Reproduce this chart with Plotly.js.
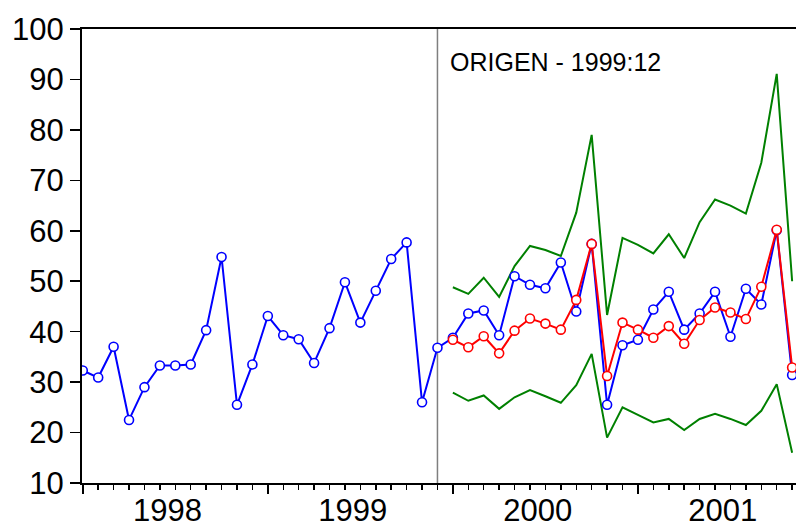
<!DOCTYPE html>
<html>
<head>
<meta charset="utf-8">
<script src="https://cdn.plot.ly/plotly-3.0.1.min.js"></script>
<style>html,body{margin:0;padding:0;background:#fff;overflow:hidden}#chart{width:796px;height:529px}</style>
</head>
<body>
<div id="chart"></div>
<script>
// Monthly observations, index 0 = 1998:01
const monthIndex = Array.from({length: 47}, (_, i) => i);
const forecastIndex = monthIndex.slice(24); // 2000:01 .. 2001:11
const yearLabels = ['1998', '1999', '2000', '2001'];
const yearLabelPos = [5.5, 17.5, 29.5, 41.5];
const yearStarts = [0, 12, 24, 36];
const originIndex = 23; // 1999:12
const originLabel = 'ORIGEN - 1999:12';

const actual = [32.3, 30.9, 37.0, 22.5, 29.0, 33.3, 33.3, 33.5, 40.3, 54.8, 25.5, 33.5,
  43.1, 39.3, 38.5, 33.8, 40.7, 49.8, 41.8, 48.1, 54.4, 57.7, 26.0, 36.8,
  38.8, 43.6, 44.2, 39.3, 51.0, 49.3, 48.6, 53.7, 44.0, 57.4, 25.5, 37.3,
  38.4, 44.4, 47.9, 40.4, 43.6, 47.9, 39.0, 48.5, 45.4, 60.1, 31.4];
const forecast = [38.4, 36.9, 39.1, 35.7, 40.2, 42.6, 41.6, 40.4, 46.3, 57.4, 31.2, 41.8,
  40.4, 38.8, 41.1, 37.6, 42.3, 44.8, 43.8, 42.5, 48.9, 60.2, 32.9];
const upperBand = [48.8, 47.5, 50.7, 46.9, 53.0, 57.0, 56.2, 55.0, 63.6, 79.0, 43.3, 58.6,
  57.2, 55.5, 59.3, 54.6, 61.7, 66.2, 65.0, 63.4, 73.5, 91.1, 50.0];
const lowerBand = [27.9, 26.3, 27.35, 24.7, 27.0, 28.4, 27.2, 25.9, 29.4, 35.6, 19.0, 25.0,
  23.5, 22.0, 22.7, 20.5, 22.7, 23.7, 22.7, 21.5, 24.3, 29.6, 16.0];

const FONT = '"Liberation Sans", Arial, Helvetica, sans-serif';
const BLUE = '#0000ff', RED = '#ff0000', GREEN = '#008000';
const marker = c => ({symbol: 'circle', size: 9, color: '#ffffff', line: {color: c, width: 1.6}});

const traces = [
  {x: forecastIndex, y: upperBand, type: 'scatter', mode: 'lines', line: {color: GREEN, width: 2}, hoverinfo: 'skip'},
  {x: forecastIndex, y: lowerBand, type: 'scatter', mode: 'lines', line: {color: GREEN, width: 2}, hoverinfo: 'skip'},
  {x: monthIndex, y: actual, type: 'scatter', mode: 'lines+markers', line: {color: BLUE, width: 2}, marker: marker(BLUE)},
  {x: forecastIndex, y: forecast, type: 'scatter', mode: 'lines+markers', line: {color: RED, width: 2}, marker: marker(RED)},
  {x: [null], y: [null], xaxis: 'x2', type: 'scatter', mode: 'lines', showlegend: false, hoverinfo: 'skip'},
  {x: [null], y: [null], xaxis: 'x3', type: 'scatter', mode: 'lines', showlegend: false, hoverinfo: 'skip'}
];

const xr = [-0.05, 46.25];
const layout = {
  width: 796, height: 529,
  margin: {l: 82, r: 0, t: 29, b: 46},
  paper_bgcolor: '#ffffff', plot_bgcolor: '#ffffff',
  showlegend: false,
  font: {family: FONT, color: '#000'},
  xaxis: {
    range: xr, showgrid: false, zeroline: false,
    showline: true, linecolor: '#000', linewidth: 2, mirror: true,
    tickmode: 'linear', tick0: 0, dtick: 1, ticks: 'outside', ticklen: 5, tickwidth: 1.5, tickcolor: '#000',
    showticklabels: false
  },
  xaxis2: {
    range: xr, overlaying: 'x', anchor: 'y', side: 'bottom', showgrid: false, zeroline: false, showline: false,
    tickmode: 'array', tickvals: yearStarts, ticks: 'outside', ticklen: 10, tickwidth: 1.5, tickcolor: '#000',
    showticklabels: false
  },
  xaxis3: {
    range: xr, overlaying: 'x', anchor: 'y', side: 'bottom', showgrid: false, zeroline: false, showline: false,
    tickmode: 'array', tickvals: yearLabelPos, ticktext: yearLabels, ticks: '',
    tickfont: {family: FONT, size: 31, color: '#000'}, ticklabelstandoff: 6
  },
  yaxis: {
    range: [10, 100], showgrid: false, zeroline: false,
    showline: true, linecolor: '#000', linewidth: 2, mirror: false,
    tickmode: 'linear', tick0: 10, dtick: 10, ticks: 'outside', ticklen: 10, tickwidth: 1.5, tickcolor: '#000',
    tickfont: {family: FONT, size: 31, color: '#000'}
  },
  shapes: [{type: 'line', xref: 'x', yref: 'paper', x0: originIndex, x1: originIndex, y0: 0, y1: 1,
    line: {color: '#7f7f7f', width: 1.5}, layer: 'below'}],
  annotations: [{text: originLabel, xref: 'x', yref: 'paper', x: originIndex, y: 0.928,
    xanchor: 'left', yanchor: 'middle', xshift: 11, showarrow: false,
    font: {family: FONT, size: 25, color: '#000'}}]
};

Plotly.newPlot('chart', traces, layout, {staticPlot: true, displayModeBar: false});
</script>
</body>
</html>
